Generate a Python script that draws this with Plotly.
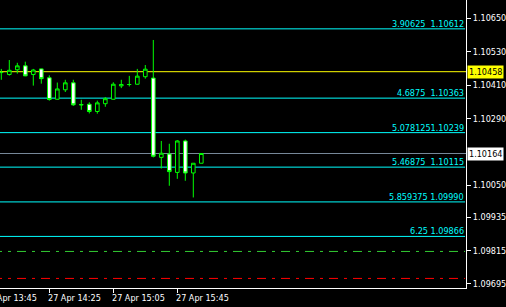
import plotly.graph_objects as go
import pandas as pd

# ---------------- data ----------------
times = ["2020-04-27 13:55", "2020-04-27 14:00", "2020-04-27 14:05", "2020-04-27 14:10",
         "2020-04-27 14:15", "2020-04-27 14:20", "2020-04-27 14:25", "2020-04-27 14:30",
         "2020-04-27 14:35", "2020-04-27 14:40", "2020-04-27 14:45", "2020-04-27 14:50",
         "2020-04-27 14:55", "2020-04-27 15:00", "2020-04-27 15:05", "2020-04-27 15:10",
         "2020-04-27 15:15", "2020-04-27 15:20", "2020-04-27 15:25", "2020-04-27 15:30",
         "2020-04-27 15:35", "2020-04-27 15:40", "2020-04-27 15:45", "2020-04-27 15:50",
         "2020-04-27 15:55", "2020-04-27 16:00"]
opens  = [1.10455, 1.10448, 1.10465, 1.10479, 1.10448, 1.10468, 1.10436, 1.10359,
          1.10393, 1.10418, 1.10340, 1.10341, 1.10315, 1.10343, 1.10359, 1.10407,
          1.10412, 1.10413, 1.10440, 1.10435, 1.10150, 1.10162, 1.10096, 1.10209,
          1.10094, 1.10129]
highs  = [1.10468, 1.10500, 1.10490, 1.10494, 1.10468, 1.10469, 1.10445, 1.10419,
          1.10429, 1.10429, 1.10357, 1.10348, 1.10354, 1.10367, 1.10420, 1.10429,
          1.10443, 1.10468, 1.10482, 1.10572, 1.10209, 1.10199, 1.10212, 1.10214,
          1.10129, 1.10164]
lows   = [1.10429, 1.10444, 1.10451, 1.10442, 1.10408, 1.10415, 1.10354, 1.10358,
          1.10385, 1.10335, 1.10321, 1.10308, 1.10307, 1.10332, 1.10358, 1.10399,
          1.10405, 1.10412, 1.10433, 1.10150, 1.10110, 1.10048, 1.10073, 1.10066,
          1.10006, 1.10129]
closes = [1.10455, 1.10463, 1.10479, 1.10443, 1.10464, 1.10433, 1.10358, 1.10396,
          1.10418, 1.10339, 1.10339, 1.10315, 1.10346, 1.10361, 1.10413, 1.10412,
          1.10412, 1.10442, 1.10467, 1.10154, 1.10165, 1.10099, 1.10209, 1.10094,
          1.10129, 1.10164]

fibo_prices = [1.10612, 1.10363, 1.10239, 1.10115, 1.09990, 1.09866]
fibo_labels = ["3.90625\u00a0\u00a01.10612", "4.6875\u00a0\u00a01.10363", "5.0781251.10239",
               "5.46875\u00a0\u00a01.10115", "5.859375\u00a01.09990", "6.25\u00a01.09866"]
yellow_price = 1.10458
bid_price = 1.10164
green_price = 1.09812
red_price = 1.09715

ytick_vals = [1.10650, 1.10530, 1.10410, 1.10290, 1.10050, 1.09935, 1.09815, 1.09695]
ytick_text = ["1.10650", "1.10530", "1.10410", "1.10290", "1.10050", "1.09935", "1.09815", "1.09695"]
xtick_vals = ["2020-04-27 13:45", "2020-04-27 14:25", "2020-04-27 15:05", "2020-04-27 15:45"]
xtick_text = ["27 Apr 13:45", "27 Apr 14:25", "27 Apr 15:05", "27 Apr 15:45"]

x_range = ["2020-04-27 13:54:11", "2020-04-27 18:45:27"]
y_range = [1.096806, 1.107157]

FONT = "DejaVu Sans Condensed, DejaVu Sans, sans-serif"
FS = 9
LIME = "#00FF00"
CYAN = "#00FFFF"

fig = go.Figure()
fig.add_trace(go.Candlestick(
    x=times, open=opens, high=highs, low=lows, close=closes,
    increasing=dict(line=dict(color=LIME, width=1), fillcolor="#000000"),
    decreasing=dict(line=dict(color=LIME, width=1), fillcolor="#FFFFFF"),
    whiskerwidth=0, hoverinfo="skip", showlegend=False,
))

shapes = []
annotations = []
for p, lab in zip(fibo_prices, fibo_labels):
    shapes.append(dict(type="line", xref="paper", x0=0, x1=0.998, yref="y", y0=p, y1=p,
                       line=dict(color=CYAN, width=1), layer="below"))
    annotations.append(dict(xref="paper", x=0.998, xanchor="right", yref="y", y=p,
                            yanchor="bottom", text=lab, showarrow=False, yshift=-1,
                            font=dict(family=FONT, size=FS, color=CYAN), borderpad=0))

shapes.append(dict(type="line", xref="paper", x0=0, x1=1, yref="y", y0=yellow_price, y1=yellow_price,
                   line=dict(color="#FFFF00", width=1), layer="below"))
shapes.append(dict(type="line", xref="paper", x0=0, x1=1, yref="y", y0=bid_price, y1=bid_price,
                   line=dict(color="#778899", width=1), layer="below"))
shapes.append(dict(type="line", xref="paper", x0=-0.015, x1=0.998, yref="y", y0=green_price, y1=green_price,
                   line=dict(color="#32CD32", width=1, dash="9px,6px,3px,6px"), layer="below"))
shapes.append(dict(type="line", xref="paper", x0=-0.015, x1=0.998, yref="y", y0=red_price, y1=red_price,
                   line=dict(color="#FF0000", width=1, dash="9px,6px,3px,6px"), layer="below"))

annotations.append(dict(xref="paper", x=1, xanchor="left", xshift=1, yref="y", y=yellow_price,
                        yanchor="middle", text="1.10458", showarrow=False, bgcolor="#FFFF00",
                        borderpad=1, font=dict(family=FONT, size=FS, color="#000000")))
annotations.append(dict(xref="paper", x=1, xanchor="left", xshift=1, yref="y", y=bid_price,
                        yanchor="middle", text="1.10164", showarrow=False, bgcolor="#FFFFFF",
                        borderpad=1, font=dict(family=FONT, size=FS, color="#000000")))

# x-axis labels (left-aligned at their tick, positioned through the axis range)
r0, r1 = pd.Timestamp(x_range[0]), pd.Timestamp(x_range[1])
for tv, tt in zip(xtick_vals, xtick_text):
    frac = (pd.Timestamp(tv) - r0) / (r1 - r0)
    annotations.append(dict(xref="paper", x=frac, xanchor="left", xshift=-3, yref="paper", y=0,
                            yanchor="top", yshift=-3, text=tt, showarrow=False,
                            font=dict(family=FONT, size=FS, color="#FFFFFF")))

fig.update_layout(
    width=506, height=307,
    margin=dict(l=0, r=40, t=0, b=19),
    paper_bgcolor="#000000", plot_bgcolor="#000000",
    boxgap=0.35,
    shapes=shapes, annotations=annotations,
    showlegend=False,
    xaxis=dict(type="date", range=x_range, rangeslider=dict(visible=False),
               showgrid=False, zeroline=False, showline=True, linecolor="#FFFFFF", linewidth=1,
               tickmode="array", tickvals=xtick_vals, ticks="outside", ticklen=4,
               tickcolor="#FFFFFF", tickwidth=1, showticklabels=False, fixedrange=True),
    yaxis=dict(range=y_range, side="right", showgrid=False, zeroline=False,
               showline=True, linecolor="#FFFFFF", linewidth=1,
               tickmode="array", tickvals=ytick_vals, ticktext=ytick_text,
               ticks="outside", ticklen=4, tickcolor="#FFFFFF", tickwidth=1,
               tickfont=dict(family=FONT, size=FS, color="#FFFFFF"), fixedrange=True),
)

fig.write_html("out.html", config={"displayModeBar": False})
